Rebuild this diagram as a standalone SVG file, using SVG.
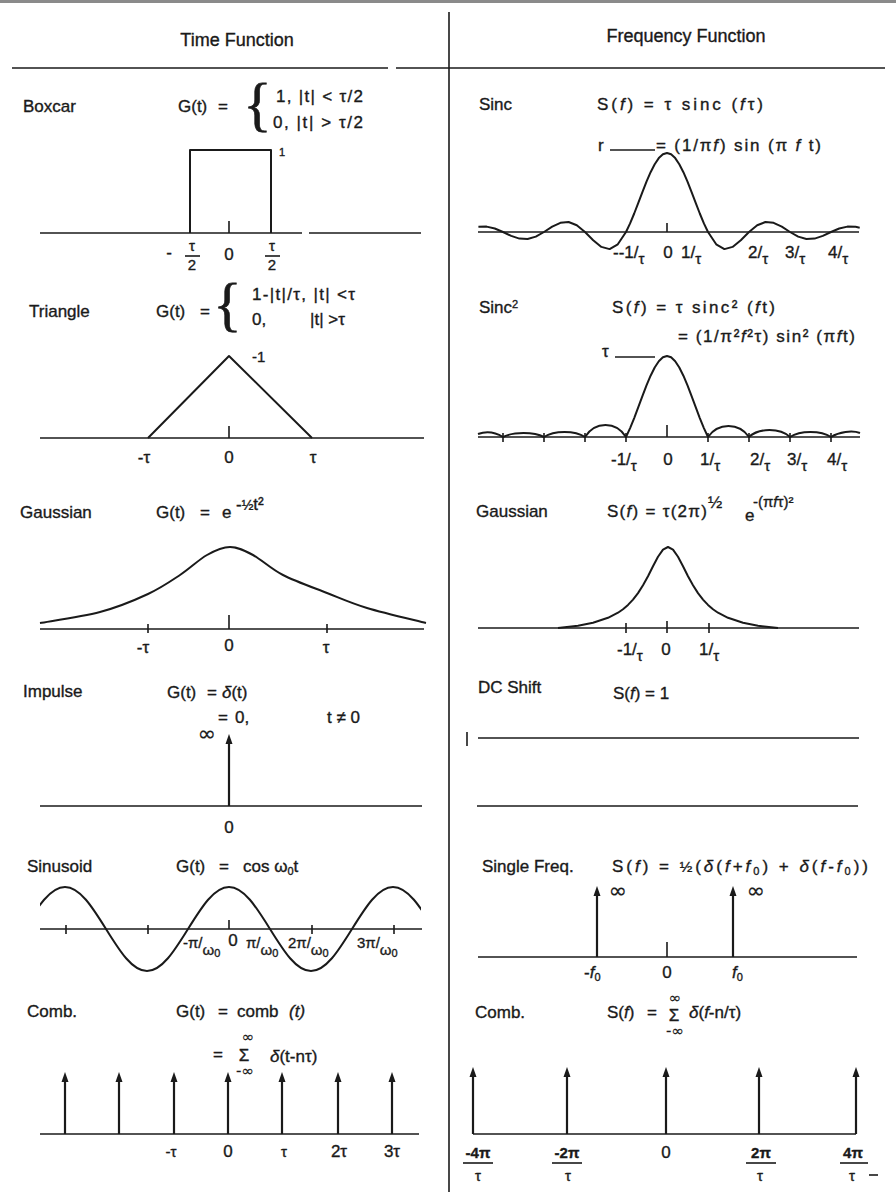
<svg xmlns="http://www.w3.org/2000/svg" width="896" height="1194" viewBox="0 0 896 1194">
<style>
text{font-family:"Liberation Sans",Arial,Helvetica,sans-serif;font-size:17px;fill:#1a1a1a;stroke:#1a1a1a;stroke-width:0.35}
.hd{font-size:18px}
.sm{font-size:15px}
.xs{font-size:11px}
.inf{font-family:"DejaVu Sans",sans-serif;font-size:22px;stroke-width:0.2}
.lim{font-family:"DejaVu Sans",sans-serif;font-size:15px;stroke-width:0.2}
.it{font-style:italic}
.b{font-weight:bold}
.ln{stroke:#1a1a1a;stroke-width:1.6;fill:none}
.cv{stroke:#1a1a1a;stroke-width:2;fill:none;stroke-linejoin:round}
.ar{stroke:#1a1a1a;stroke-width:2.2;fill:none;marker-end:url(#ah)}
.br{font-family:"Liberation Serif","Times New Roman",serif;font-size:60px;stroke-width:0.6}
</style>
<defs>
<marker id="ah" viewBox="0 0 10 8" refX="5" refY="4" markerWidth="10" markerHeight="8" markerUnits="userSpaceOnUse" orient="auto"><path d="M0,0.5 L10,4 L0,7.5 z" fill="#1a1a1a"/></marker>
<clipPath id="clipSin"><rect x="40" y="870" width="381" height="120"/></clipPath>
</defs>
<rect width="896" height="1194" fill="#fff"/>

<g id="grid">
<rect x="0" y="0" width="896" height="3" fill="#8a8a8a"/>
<line class="ln" x1="449" y1="12" x2="449" y2="1192" stroke-width="2"/>
<line class="ln" x1="12" y1="68" x2="388" y2="68"/>
<line class="ln" x1="396" y1="68" x2="885" y2="68"/>
<text class="hd" x="237" y="46" text-anchor="middle">Time Function</text>
<text class="hd" x="686" y="42" text-anchor="middle">Frequency Function</text>
</g>

<g id="boxcar">
<text x="23" y="112">Boxcar</text>
<text x="178" y="112">G(t)<tspan x="218">=</tspan></text>
<text class="br" x="243" y="124">{</text>
<text x="276" y="102" textLength="87" lengthAdjust="spacing">1, |t| &lt; τ/2</text>
<text x="273" y="128" textLength="90" lengthAdjust="spacing">0, |t| &gt; τ/2</text>
<path class="cv" d="M190,233 V150 H271 V233"/>
<line class="ln" x1="40" y1="233" x2="302" y2="233"/>
<line class="ln" x1="309" y1="233" x2="421" y2="233"/>
<line class="ln" x1="229" y1="221" x2="229" y2="233"/>
<text class="xs" x="282" y="156" text-anchor="middle">1</text>
<text x="169" y="258" text-anchor="middle">-</text>
<text class="sm" x="192" y="251" text-anchor="middle">τ</text>
<line class="ln" x1="185" y1="256" x2="200" y2="256" stroke-width="1.2"/>
<text class="sm" x="192" y="270" text-anchor="middle">2</text>
<text class="sm" x="272" y="251" text-anchor="middle">τ</text>
<line class="ln" x1="265" y1="256" x2="280" y2="256" stroke-width="1.2"/>
<text class="sm" x="272" y="270" text-anchor="middle">2</text>
<text x="229" y="260" text-anchor="middle">0</text>
</g>

<g id="triangle">
<text x="29" y="317">Triangle</text>
<text x="156" y="317">G(t)<tspan x="200">=</tspan></text>
<text class="br" x="213" y="324">{</text>
<text x="252" y="300" textLength="103" lengthAdjust="spacing">1-|t|/τ, |t| &lt;τ</text>
<text x="252" y="325">0,</text>
<text x="310" y="325">|t| &gt;τ</text>
<path class="cv" d="M148,438 L229,356 L312,438"/>
<line class="ln" x1="40" y1="438" x2="424" y2="438"/>
<line class="ln" x1="229" y1="426" x2="229" y2="438"/>
<text class="sm" x="252" y="362">-1</text>
<text x="144" y="463" text-anchor="middle">-τ</text>
<text x="229" y="463" text-anchor="middle">0</text>
<text x="313" y="463" text-anchor="middle">τ</text>
</g>

<g id="gaussian-time">
<text x="20" y="518">Gaussian</text>
<text x="156" y="518">G(t)<tspan x="200">=</tspan><tspan x="222">e</tspan></text>
<text x="236" y="510">-<tspan font-size="14">½</tspan>t²</text>
<path class="cv" d="M40,623 C50,621.2 82,616.8 100,612 C118,607.2 134.7,600.2 148,594 C161.3,587.8 170.2,581.5 180,575 C189.8,568.5 198.7,559.7 207,555 C215.3,550.3 222.3,547 230,547 C237.7,547 244.2,550.3 253,555 C261.8,559.7 270.7,568.7 283,575 C295.3,581.3 313,587.5 327,593 C341,598.5 350.5,603 367,608 C383.5,613 416.2,620.5 426,623"/>
<line class="ln" x1="40" y1="629" x2="424" y2="629"/>
<line class="ln" x1="229" y1="615" x2="229" y2="629"/>
<line class="ln" x1="148" y1="624" x2="148" y2="633"/>
<line class="ln" x1="327" y1="624" x2="327" y2="633"/>
<text x="143" y="653" text-anchor="middle">-τ</text>
<text x="229" y="651" text-anchor="middle">0</text>
<text x="326" y="653" text-anchor="middle">τ</text>
</g>

<g id="impulse">
<text x="23" y="697">Impulse</text>
<text x="167" y="698">G(t)<tspan x="207">=</tspan><tspan x="222" class="it">δ</tspan>(t)</text>
<text x="218" y="723">=<tspan x="235">0,</tspan></text>
<text x="327" y="723">t ≠ 0</text>
<text class="inf" x="207" y="741" text-anchor="middle">∞</text>
<line class="ar" x1="229" y1="806" x2="229" y2="739"/>
<line class="ln" x1="40" y1="806" x2="422" y2="806"/>
<text x="229" y="833" text-anchor="middle">0</text>
</g>

<g id="sinusoid">
<text x="27" y="872">Sinusoid</text>
<text x="176" y="872">G(t)<tspan x="219">=</tspan><tspan x="243">cos ω</tspan><tspan class="xs" baseline-shift="-3">0</tspan>t</text>
<line class="ln" x1="40" y1="929" x2="422" y2="929"/>
<line class="ln" x1="66" y1="925" x2="66" y2="934"/>
<line class="ln" x1="148" y1="925" x2="148" y2="934"/>
<line class="ln" x1="312" y1="925" x2="312" y2="934"/>
<line class="ln" x1="394" y1="925" x2="394" y2="934"/>
<line class="ln" x1="229" y1="920" x2="229" y2="929"/>
<path class="cv" clip-path="url(#clipSin)" d="M24,929 C37.7,906.95 50.2,887 65,887 C79.8,887 92.3,906.95 106,929 C119.7,951.05 132.2,971 147,971 C161.8,971 174.3,951.05 188,929 C201.7,906.95 214.2,887 229,887 C243.8,887 256.3,906.95 270,929 C283.7,951.05 296.2,971 311,971 C325.8,971 338.3,951.05 352,929 C365.7,906.95 378.2,887 393,887 C407.8,887 420.3,906.95 434,929"/>
<text class="sm" x="183" y="948">-π/<tspan dy="7">ω</tspan><tspan class="xs" dy="2">0</tspan></text>
<text x="233" y="946" text-anchor="middle">0</text>
<text class="sm" x="246" y="948">π/<tspan dy="7">ω</tspan><tspan class="xs" dy="2">0</tspan></text>
<text class="sm" x="288" y="948">2π/<tspan dy="7">ω</tspan><tspan class="xs" dy="2">0</tspan></text>
<text class="sm" x="357" y="948">3π/<tspan dy="7">ω</tspan><tspan class="xs" dy="2">0</tspan></text>
</g>

<g id="comb-time">
<text x="27" y="1017">Comb.</text>
<text x="176" y="1017">G(t)<tspan x="218">=</tspan><tspan x="237">comb</tspan><tspan x="289" class="it">(t)</tspan></text>
<text x="213" y="1060">=</text>
<text class="lim" x="248" y="1042" text-anchor="middle">∞</text>
<text x="244" y="1061" text-anchor="middle" font-size="15">Σ</text>
<text class="lim" x="245" y="1076" text-anchor="middle">-∞</text>
<text x="270" y="1062"><tspan class="it">δ</tspan>(t-nτ)</text>
<line class="ar" x1="65" y1="1134" x2="65" y2="1077"/>
<line class="ar" x1="119" y1="1134" x2="119" y2="1077"/>
<line class="ar" x1="174" y1="1134" x2="174" y2="1077"/>
<line class="ar" x1="228" y1="1134" x2="228" y2="1077"/>
<line class="ar" x1="282" y1="1134" x2="282" y2="1077"/>
<line class="ar" x1="338" y1="1134" x2="338" y2="1077"/>
<line class="ar" x1="392" y1="1134" x2="392" y2="1077"/>
<line class="ln" x1="40" y1="1134" x2="419" y2="1134"/>
<text class="sm" x="171" y="1157" text-anchor="middle">-τ</text>
<text x="228" y="1157" text-anchor="middle">0</text>
<text class="sm" x="284" y="1157" text-anchor="middle">τ</text>
<text x="339" y="1157" text-anchor="middle">2τ</text>
<text x="392" y="1157" text-anchor="middle">3τ</text>
</g>

<g id="sinc">
<text x="479" y="110">Sinc</text>
<text x="597" y="110" textLength="166" lengthAdjust="spacing">S(<tspan class="it">f</tspan>) = τ sinc (<tspan class="it">f</tspan>τ)</text>
<text x="598" y="151">r</text>
<line class="ln" x1="610" y1="150" x2="655" y2="150" stroke-width="1.3"/>
<text x="656" y="151" textLength="165" lengthAdjust="spacing">= (1/π<tspan class="it">f</tspan>) sin (π <tspan class="it">f</tspan> t)</text>
<polyline class="cv" points="478.4,226.8 486.6,226.6 494.8,228.5 503,232 511.2,235.9 519.4,238.6 527.6,239 535.8,236.6 544,232 552.2,226.7 560.4,222.8 568.6,222 576.8,225.3 585,232 593.2,240.2 601.4,246.9 609.6,249.1 617.8,244.3 626,232 630.1,223.4 634.2,213.5 638.3,202.9 642.4,192.1 646.5,181.7 650.6,172.2 654.7,164.2 658.8,158.1 662.9,154.3 667,153 671.1,154.3 675.2,158.1 679.3,164.2 683.4,172.2 687.5,181.7 691.6,192.1 695.7,202.9 699.8,213.5 703.9,223.4 708,232 716.2,244.3 724.4,249.1 732.6,246.9 740.8,240.2 749,232 757.2,225.3 765.4,222 773.6,222.8 781.8,226.7 790,232 798.2,236.6 806.4,239 814.6,238.6 822.8,235.9 831,232 839.2,228.5 847.4,226.6 855.6,226.8 859.7,227.7"/>
<line class="ln" x1="478" y1="232" x2="859" y2="232"/>
<line class="ln" x1="667" y1="223" x2="667" y2="232"/>
<text x="613" y="258">--1/<tspan class="sm" dy="6">τ</tspan></text>
<text x="668" y="258" text-anchor="middle">0</text>
<text x="681" y="258">1/<tspan class="sm" dy="6">τ</tspan></text>
<text x="748" y="258">2/<tspan class="sm" dy="6">τ</tspan></text>
<text x="785" y="258">3/<tspan class="sm" dy="6">τ</tspan></text>
<text x="828" y="258">4/<tspan class="sm" dy="6">τ</tspan></text>
</g>

<g id="sinc2">
<text x="479" y="313">Sinc<tspan class="xs" baseline-shift="5">2</tspan></text>
<text x="612" y="313" textLength="163" lengthAdjust="spacing">S(<tspan class="it">f</tspan>) = τ sinc² (<tspan class="it">f</tspan>t)</text>
<text x="678" y="342" textLength="177" lengthAdjust="spacing">= (1/π²<tspan class="it">f</tspan>²τ) sin² (π<tspan class="it">f</tspan>t)</text>
<text x="602" y="357">τ</text>
<line class="ln" x1="615" y1="357" x2="655" y2="357" stroke-width="1.3"/>
<path class="cv" d="M478,434 C486,431 495,432 503,437 C513,431.7 534,431.7 544,437 C554,430.3 575,430.3 585,437 C595,421 616,421 626,437 L630.1,428.1 634.2,418.1 638.3,407.2 642.4,396.1 646.5,385.4 650.6,375.7 654.7,367.5 658.8,361.2 662.9,357.3 667,356 671.1,357.3 675.2,361.2 679.3,367.5 683.4,375.7 687.5,385.4 691.6,396.1 695.7,407.2 699.8,418.1 703.9,428.1 708,437 C718,422.3 739,422.3 749,437 C759,427.7 780,427.7 790,437 C800,430.3 821,430.3 831,437 C839,432 852,430 860,433"/>
<line class="ln" x1="478" y1="437" x2="860" y2="437"/>
<line class="ln" x1="667" y1="425" x2="667" y2="437"/>
<line class="ln" x1="503" y1="433" x2="503" y2="442"/>
<line class="ln" x1="544" y1="433" x2="544" y2="442"/>
<line class="ln" x1="585" y1="433" x2="585" y2="442"/>
<line class="ln" x1="626" y1="433" x2="626" y2="442"/>
<line class="ln" x1="708" y1="433" x2="708" y2="442"/>
<line class="ln" x1="749" y1="433" x2="749" y2="442"/>
<line class="ln" x1="790" y1="433" x2="790" y2="442"/>
<line class="ln" x1="831" y1="433" x2="831" y2="442"/>
<text x="611" y="465">-1/<tspan class="sm" dy="6">τ</tspan></text>
<text x="668" y="465" text-anchor="middle">0</text>
<text x="700" y="465">1/<tspan class="sm" dy="6">τ</tspan></text>
<text x="750" y="465">2/<tspan class="sm" dy="6">τ</tspan></text>
<text x="787" y="465">3/<tspan class="sm" dy="6">τ</tspan></text>
<text x="827" y="465">4/<tspan class="sm" dy="6">τ</tspan></text>
</g>

<g id="gaussian-freq">
<text x="476" y="517">Gaussian</text>
<text x="607" y="517" textLength="100" lengthAdjust="spacing">S(<tspan class="it">f</tspan>) = τ(2π)</text>
<text font-size="12" x="708" y="508">½</text>
<text x="745" y="521">e</text>
<text class="sm" x="753" y="507">-(π<tspan class="it">f</tspan>τ)²</text>
<polyline class="cv" points="558,628 578,625.7 593,622.7 608,617.8 618,612.7 623,609.2 628,604.9 633,599.6 638,593.1 643,585.2 648,576.2 653,566.3 658,556.8 663,549.6 668,547 673,549.6 678,556.8 683,566.3 688,576.2 693,585.2 698,593.1 703,599.6 708,604.9 713,609.2 718,612.7 728,617.8 743,622.7 758,625.7 778,628"/>
<line class="ln" x1="478" y1="628" x2="859" y2="628"/>
<line class="ln" x1="626" y1="623" x2="626" y2="633"/>
<line class="ln" x1="667" y1="621" x2="667" y2="633"/>
<line class="ln" x1="709" y1="623" x2="709" y2="633"/>
<text x="617" y="655">-1/<tspan class="sm" dy="6">τ</tspan></text>
<text x="666" y="655" text-anchor="middle">0</text>
<text x="699" y="655">1/<tspan class="sm" dy="6">τ</tspan></text>
</g>

<g id="dc-shift">
<text x="478" y="693">DC Shift</text>
<text x="613" y="699">S(<tspan class="it">f</tspan>) = 1</text>
<line class="ln" x1="467" y1="732" x2="467" y2="746"/>
<line class="ln" x1="478" y1="738" x2="859" y2="738"/>
<line class="ln" x1="477" y1="806" x2="858" y2="806"/>
</g>

<g id="single-freq">
<text x="482" y="872">Single Freq.</text>
<text x="612" y="872" textLength="256" lengthAdjust="spacing">S(<tspan class="it">f</tspan>) = <tspan class="sm">½</tspan>(<tspan class="it">δ</tspan>(<tspan class="it">f</tspan>+<tspan class="it">f</tspan><tspan class="xs" baseline-shift="-3">0</tspan>) + <tspan class="it">δ</tspan>(<tspan class="it">f</tspan>-<tspan class="it">f</tspan><tspan class="xs" baseline-shift="-3">0</tspan>))</text>
<line class="ar" x1="597" y1="957" x2="597" y2="891"/>
<line class="ar" x1="733" y1="957" x2="733" y2="891"/>
<text class="inf" x="618" y="898" text-anchor="middle">∞</text>
<text class="inf" x="756" y="898" text-anchor="middle">∞</text>
<line class="ln" x1="478" y1="957" x2="857" y2="957"/>
<line class="ln" x1="667" y1="942" x2="667" y2="957"/>
<text x="584" y="978">-<tspan class="it">f</tspan><tspan class="xs" baseline-shift="-3">0</tspan></text>
<text x="667" y="978" text-anchor="middle">0</text>
<text x="732" y="978"><tspan class="it">f</tspan><tspan class="xs" baseline-shift="-3">0</tspan></text>
</g>

<g id="comb-freq">
<text x="475" y="1018">Comb.</text>
<text x="607" y="1018">S(<tspan class="it">f</tspan>)<tspan x="647">=</tspan></text>
<text class="lim" x="675" y="1003" text-anchor="middle">∞</text>
<text x="674" y="1021" text-anchor="middle" font-size="15">Σ</text>
<text class="lim" x="675" y="1036" text-anchor="middle">-∞</text>
<text x="689" y="1018"><tspan class="it">δ</tspan>(<tspan class="it">f</tspan>-n/τ)</text>
<line class="ar" x1="473" y1="1134" x2="473" y2="1072"/>
<line class="ar" x1="567" y1="1134" x2="567" y2="1072"/>
<line class="ar" x1="666" y1="1134" x2="666" y2="1072"/>
<line class="ar" x1="759" y1="1134" x2="759" y2="1072"/>
<line class="ar" x1="856" y1="1134" x2="856" y2="1072"/>
<line class="ln" x1="473" y1="1134" x2="856" y2="1134"/>
<text class="sm b" x="478" y="1158" text-anchor="middle">-4π</text>
<line class="ln" x1="463" y1="1163" x2="493" y2="1163" stroke-width="1.3"/>
<text class="sm" x="478" y="1181" text-anchor="middle">τ</text>
<text class="sm b" x="567" y="1158" text-anchor="middle">-2π</text>
<line class="ln" x1="552" y1="1163" x2="582" y2="1163" stroke-width="1.3"/>
<text class="sm" x="568" y="1181" text-anchor="middle">τ</text>
<text x="666" y="1158" text-anchor="middle">0</text>
<text class="sm b" x="761" y="1158" text-anchor="middle">2π</text>
<line class="ln" x1="746" y1="1163" x2="776" y2="1163" stroke-width="1.3"/>
<text class="sm" x="760" y="1181" text-anchor="middle">τ</text>
<text class="sm b" x="853" y="1158" text-anchor="middle">4π</text>
<line class="ln" x1="840" y1="1163" x2="868" y2="1163" stroke-width="1.3"/>
<text class="sm" x="852" y="1181" text-anchor="middle">τ</text>
<line class="ln" x1="869" y1="1175" x2="878" y2="1175" stroke-width="3"/>
</g>
</svg>
